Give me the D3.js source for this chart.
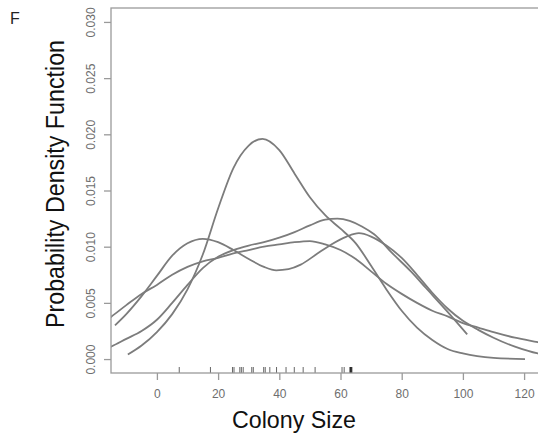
<!DOCTYPE html>
<html>
<head>
<meta charset="utf-8">
<script src="https://cdn.jsdelivr.net/npm/d3@7/dist/d3.min.js"></script>
<style>
  html, body { margin: 0; padding: 0; background: #fff; }
  svg { display: block; font-family: "Liberation Sans", Arial, sans-serif; }
</style>
</head>
<body>
<svg id="chart" width="538" height="438"></svg>
<script>
// Kernel density estimates of colony size (four samples), as [size, density]
const densityA = [[-9.5,0.0004],[-5,0.0012],[0,0.0024],[5,0.0040],[10,0.0062],[15,0.0093],
  [20,0.0134],[25,0.0170],[30,0.0190],[34.5,0.0196],[40,0.0186],[45,0.0165],[50,0.0144],
  [55,0.0128],[60,0.0116],[65,0.0103],[70,0.0083],[75,0.0062],[80,0.0043],[85,0.0028],
  [90,0.0017],[95,0.0009],[100,0.0005],[110,0.0001],[120.3,0.0000]];
const densityB = [[-13.7,0.0030],[-10,0.0040],[-5,0.0056],[0,0.0074],[5,0.0092],[10,0.0103],
  [15,0.0107],[20,0.0104],[25,0.0097],[30,0.0089],[35,0.0082],[39,0.0079],[43,0.0080],
  [47,0.0084],[52,0.0093],[57,0.0102],[62,0.0109],[66,0.0112],[70,0.0109],[75,0.0101],
  [80,0.0090],[85,0.0075],[90,0.0059],[95,0.0045],[100,0.0034],[105,0.0026],[110,0.0019],
  [117,0.0011],[124.5,0.0005],[130,0.0003]];
const densityC = [[-20,0.0028],[-15,0.00375],[-10,0.0048],[-5,0.0058],[0,0.0066],[5,0.0075],
  [10,0.0082],[15,0.0087],[20,0.0090],[25,0.0094],[30,0.0097],[35,0.0100],[40,0.0102],
  [45,0.0104],[50,0.0105],[55,0.0102],[60,0.0097],[65,0.0089],[70,0.0078],[75,0.0067],
  [80,0.0058],[85,0.0050],[90,0.0043],[95,0.0038],[100,0.0032],[105,0.0028],[110,0.0024],
  [117,0.0019],[124.5,0.0015],[130,0.0012]];
const densityD = [[-20,0.0005],[-15,0.0011],[-10,0.0018],[-5,0.0025],[0,0.0035],[5,0.0050],
  [10,0.0066],[15,0.0081],[20,0.0091],[25,0.0097],[30,0.0101],[35,0.0104],[40,0.0108],
  [45,0.0113],[50,0.0119],[55,0.0124],[59,0.0125],[63,0.0123],[67,0.0118],[71,0.0111],
  [77,0.0094],[83,0.0078],[88,0.0063],[95,0.0042],[101.4,0.0022]];

// Observed colony sizes shown as a rug along the x axis
const observedSizes = [7.3, 17.5, 24.7, 25.2, 27.1, 27.6, 28.2, 31.0, 31.5, 34.9, 35.4, 36.9,
  39.1, 42.2, 44.9, 47.8, 51.7, 60.5, 61.2, 63.1, 63.3, 63.5, 63.7];

const xTicks = [0, 20, 40, 60, 80, 100, 120];
const yTicks = [0, 0.005, 0.010, 0.015, 0.020, 0.025, 0.030];

const panelLabel = "F";
const xTitle = "Colony Size";
const yTitle = "Probability Density Function";

const svg = d3.select("#chart");

const plot = { left: 111, top: 8, right: 545, bottom: 373 };

const x = d3.scaleLinear().domain([-15, 125]).range([111, 539.4]);
const y = d3.scaleLinear().domain([-0.00124, 0.03124]).range([plot.bottom, plot.top]);

const axisColor = "#9a9a9a";
const labelColor = "#6e6e6e";
const curveColor = "#7c7c7c";

svg.append("defs").append("clipPath").attr("id", "plotClip")
  .append("rect")
  .attr("x", plot.left).attr("y", plot.top)
  .attr("width", plot.right - plot.left).attr("height", plot.bottom - plot.top);

// Density curves
const line = d3.line()
  .x(d => x(d[0]))
  .y(d => y(d[1]))
  .curve(d3.curveMonotoneX);

svg.append("g").attr("clip-path", "url(#plotClip)")
  .selectAll("path")
  .data([densityA, densityB, densityC, densityD])
  .join("path")
  .attr("d", line)
  .attr("fill", "none")
  .attr("stroke", curveColor)
  .attr("stroke-width", 1.8);

// Rug of observed sizes
svg.append("g")
  .selectAll("line")
  .data(observedSizes)
  .join("line")
  .attr("x1", d => x(d)).attr("x2", d => x(d))
  .attr("y1", plot.bottom - 6).attr("y2", plot.bottom)
  .attr("stroke", d => d > 63 ? "#222" : "#666")
  .attr("stroke-width", 1);

// Plot frame
svg.append("rect")
  .attr("x", plot.left).attr("y", plot.top)
  .attr("width", plot.right - plot.left).attr("height", plot.bottom - plot.top)
  .attr("fill", "none")
  .attr("stroke", axisColor)
  .attr("stroke-width", 1.3);

// X axis
const xAxis = svg.append("g")
  .attr("transform", `translate(0,${plot.bottom})`)
  .call(d3.axisBottom(x).tickValues(xTicks).tickSize(7).tickPadding(9).tickFormat(d3.format("d")));
xAxis.select(".domain").remove();
xAxis.selectAll(".tick line").attr("stroke", axisColor).attr("stroke-width", 1.3);
xAxis.selectAll(".tick text")
  .attr("fill", labelColor)
  .attr("font-size", 12)
  .attr("font-family", "Liberation Sans, Arial, sans-serif");

// Y axis with labels rotated parallel to the axis
const yAxis = svg.append("g")
  .attr("transform", `translate(${plot.left},0)`)
  .call(d3.axisLeft(y).tickValues(yTicks).tickSize(7).tickFormat(d3.format(".3f")));
yAxis.select(".domain").remove();
yAxis.selectAll(".tick line").attr("stroke", axisColor).attr("stroke-width", 1.3);
yAxis.selectAll(".tick text")
  .attr("fill", labelColor)
  .attr("font-size", 12)
  .attr("font-family", "Liberation Sans, Arial, sans-serif")
  .attr("x", null).attr("dy", null)
  .attr("text-anchor", "middle")
  .attr("transform", "translate(-16,0) rotate(-90)");

// Titles
svg.append("text")
  .attr("x", 294).attr("y", 428)
  .attr("text-anchor", "middle")
  .attr("font-size", 24.5)
  .attr("textLength", 124)
  .attr("lengthAdjust", "spacingAndGlyphs")
  .attr("fill", "#111")
  .text(xTitle);

svg.append("text")
  .attr("transform", "translate(64,184) rotate(-90)")
  .attr("text-anchor", "middle")
  .attr("font-size", 26)
  .attr("textLength", 288)
  .attr("lengthAdjust", "spacingAndGlyphs")
  .attr("fill", "#111")
  .text(yTitle);

svg.append("text")
  .attr("x", 10).attr("y", 24)
  .attr("font-size", 16)
  .attr("fill", "#222")
  .text(panelLabel);
</script>
</body>
</html>
